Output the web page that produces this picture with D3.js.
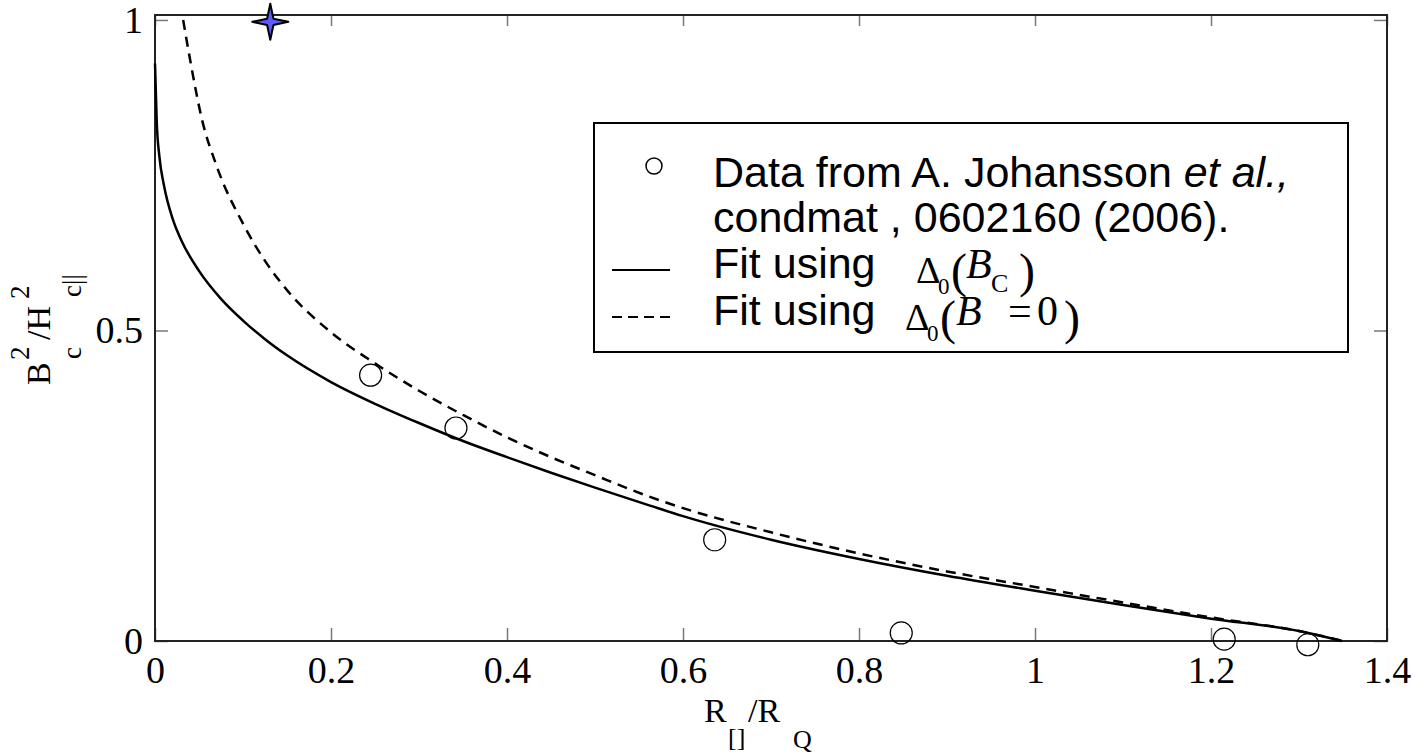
<!DOCTYPE html>
<html>
<head>
<meta charset="utf-8">
<script src="https://cdn.jsdelivr.net/npm/d3@7"></script>
<style>
  body { margin: 0; background: #fff; }
  svg { display: block; }
</style>
</head>
<body>
<div id="chart"></div>
<script>
// values
var xTicks = [0, 0.2, 0.4, 0.6, 0.8, 1, 1.2, 1.4];
var xTickLabels = ["0", "0.2", "0.4", "0.6", "0.8", "1", "1.2", "1.4"];
var yTicks = [0, 0.5, 1];
var yTickLabels = ["0", "0.5", "1"];

// open circles: data from Johansson et al.
var dataX = [0.245, 0.342, 0.636, 0.848, 1.215, 1.310];
var dataY = [0.428, 0.343, 0.163, 0.013, 0.003, -0.006];

// star marker
var starX = [0.131];
var starY = [0.997];

// solid fit, Delta0(Bc)
var solidX = [0, 0.002, 0.005, 0.01, 0.02, 0.03, 0.05, 0.075, 0.1, 0.125, 0.15, 0.2, 0.25, 0.3, 0.35, 0.4, 0.45, 0.5, 0.5625, 0.6, 0.7, 0.8, 0.9, 1.0, 1.1, 1.2, 1.3, 1.349];
var solidY = [0.93, 0.835, 0.78, 0.735, 0.68, 0.645, 0.596, 0.551, 0.516, 0.486, 0.46, 0.417, 0.382, 0.351, 0.322, 0.296, 0.271, 0.247, 0.218, 0.201, 0.163, 0.132, 0.105, 0.081, 0.058, 0.036, 0.016, 0.0];

// dashed fit, Delta0(B=0)
var dashX = [0.032, 0.04, 0.053, 0.07, 0.1, 0.125, 0.15, 0.2, 0.25, 0.3, 0.35, 0.4, 0.45, 0.5, 0.5625, 0.6, 0.7, 0.8, 0.9, 1.0, 1.1, 1.2, 1.3, 1.35];
var dashY = [1.0, 0.935, 0.842, 0.765, 0.672, 0.612, 0.565, 0.497, 0.447, 0.403, 0.364, 0.328, 0.296, 0.267, 0.232, 0.214, 0.175, 0.141, 0.112, 0.087, 0.062, 0.038, 0.016, 0.0];

var width = 1416, height = 755;
var plotLeft = 155, plotRight = 1387, plotTop = 15, plotBottom = 641;

var svg = d3.select("#chart").append("svg")
    .attr("width", width)
    .attr("height", height);

var x = d3.scaleLinear().domain([0, 1.4]).range([plotLeft, plotRight]);
var y = d3.scaleLinear().domain([0, 1.008]).range([plotBottom, plotTop]);

var serif = "'Liberation Serif', 'Times New Roman', serif";
var sans = "'Liberation Sans', Arial, sans-serif";

// ticks (inward, on all four sides)
function styleAxis(g) {
    g.select(".domain").remove();
    g.selectAll(".tick line").attr("stroke", "#777").attr("stroke-width", 1.5);
    g.selectAll(".tick text").attr("font-family", serif).attr("font-size", 38).attr("fill", "#000");
}

svg.append("g")
    .attr("transform", "translate(0," + plotBottom + ")")
    .call(d3.axisBottom(x).tickValues(xTicks).tickSize(-13).tickPadding(15)
        .tickFormat(function(d, i) { return xTickLabels[i]; }))
    .call(styleAxis);

svg.append("g")
    .attr("transform", "translate(0," + plotTop + ")")
    .call(d3.axisTop(x).tickValues(xTicks).tickSize(-11).tickFormat(""))
    .call(styleAxis);

svg.append("g")
    .attr("transform", "translate(" + plotLeft + ",0)")
    .call(d3.axisLeft(y).tickValues(yTicks).tickSize(-13).tickPadding(12)
        .tickFormat(function(d, i) { return yTickLabels[i]; }))
    .call(styleAxis);

svg.append("g")
    .attr("transform", "translate(" + plotRight + ",0)")
    .call(d3.axisRight(y).tickValues(yTicks).tickSize(-13).tickFormat(""))
    .call(styleAxis);

// frame
svg.append("rect")
    .attr("x", plotLeft).attr("y", plotTop)
    .attr("width", plotRight - plotLeft).attr("height", plotBottom - plotTop)
    .attr("fill", "none")
    .attr("stroke", "#222")
    .attr("stroke-width", 2);

// curves
var line = d3.line()
    .x(function(d) { return x(d[0]); })
    .y(function(d) { return y(d[1]); })
    .curve(d3.curveMonotoneX);

svg.append("path")
    .datum(d3.zip(solidX, solidY))
    .attr("d", line)
    .attr("fill", "none")
    .attr("stroke", "#000")
    .attr("stroke-width", 2.5);

svg.append("path")
    .datum(d3.zip(dashX, dashY))
    .attr("d", line)
    .attr("fill", "none")
    .attr("stroke", "#000")
    .attr("stroke-width", 2.5)
    .attr("stroke-dasharray", "10,7");

// data circles
svg.selectAll(".pt")
    .data(d3.zip(dataX, dataY))
    .enter()
    .append("circle")
    .attr("cx", function(d) { return x(d[0]); })
    .attr("cy", function(d) { return y(d[1]); })
    .attr("r", 11)
    .attr("fill", "none")
    .attr("stroke", "#000")
    .attr("stroke-width", 1.2);

// four pointed star
function starPath(R, r) {
    var p = d3.path();
    for (var i = 0; i < 8; i++) {
        var a = -Math.PI / 2 + i * Math.PI / 4;
        var rad = (i % 2 === 0) ? R : r;
        if (i === 0) p.moveTo(rad * Math.cos(a), rad * Math.sin(a));
        else p.lineTo(rad * Math.cos(a), rad * Math.sin(a));
    }
    p.closePath();
    return p.toString();
}

svg.selectAll(".star")
    .data(d3.zip(starX, starY))
    .enter()
    .append("path")
    .attr("d", starPath(18, 4.5))
    .attr("transform", function(d) { return "translate(" + x(d[0]) + "," + y(d[1]) + ")"; })
    .attr("fill", "#5b5bff")
    .attr("stroke", "#000")
    .attr("stroke-width", 2)
    .attr("stroke-linejoin", "round");

// x axis label: R[]/RQ
var xl = svg.append("g").attr("font-family", serif).attr("fill", "#000");
xl.append("text").attr("x", 704).attr("y", 722).attr("font-size", 34).text("R");
xl.append("text").attr("x", 728).attr("y", 746).attr("font-size", 26).text("[]");
xl.append("text").attr("x", 748).attr("y", 722).attr("font-size", 34).text("/R");
xl.append("text").attr("x", 793).attr("y", 748).attr("font-size", 26).text("Q");

// y axis label: B^2_c / H^2_c||
var yl = svg.append("g")
    .attr("transform", "translate(50,385) rotate(-90)")
    .attr("font-family", serif).attr("fill", "#000");
yl.append("text").attr("x", 0).attr("y", 0).attr("font-size", 34).text("B");
yl.append("text").attr("x", 25).attr("y", -21).attr("font-size", 27).text("2");
yl.append("text").attr("x", 26).attr("y", 31).attr("font-size", 27).text("c");
yl.append("text").attr("x", 45).attr("y", 0).attr("font-size", 34).text("/H");
yl.append("text").attr("x", 86).attr("y", -21).attr("font-size", 27).text("2");
yl.append("text").attr("x", 88).attr("y", 31).attr("font-size", 27).text("c||");

// legend
var lg = svg.append("g");
lg.append("rect")
    .attr("x", 594).attr("y", 123)
    .attr("width", 754).attr("height", 229)
    .attr("fill", "#fff")
    .attr("stroke", "#000")
    .attr("stroke-width", 2);

lg.append("circle")
    .attr("cx", 654).attr("cy", 166).attr("r", 8)
    .attr("fill", "none").attr("stroke", "#000").attr("stroke-width", 1.5);
lg.append("line")
    .attr("x1", 612).attr("x2", 670).attr("y1", 270).attr("y2", 270)
    .attr("stroke", "#000").attr("stroke-width", 2);
lg.append("line")
    .attr("x1", 612).attr("x2", 670).attr("y1", 317).attr("y2", 317)
    .attr("stroke", "#000").attr("stroke-width", 2)
    .attr("stroke-dasharray", "10,6");

var t1 = lg.append("text").attr("x", 713).attr("y", 187)
    .attr("font-family", sans).attr("font-size", 43);
t1.append("tspan").text("Data from A. Johansson ");
t1.append("tspan").attr("font-style", "italic").text("et al.,");

lg.append("text").attr("x", 713).attr("y", 232)
    .attr("font-family", sans).attr("font-size", 43)
    .text("condmat , 0602160 (2006).");
lg.append("text").attr("x", 713).attr("y", 278)
    .attr("font-family", sans).attr("font-size", 43)
    .text("Fit using");
lg.append("text").attr("x", 713).attr("y", 325)
    .attr("font-family", sans).attr("font-size", 43)
    .text("Fit using");

// math: Delta_0(B_C)
var m1 = lg.append("g").attr("font-family", serif).attr("fill", "#000");
m1.append("text").attr("x", 916).attr("y", 283).attr("font-size", 38).text("Δ");
m1.append("text").attr("x", 938).attr("y", 294).attr("font-size", 23).text("0");
m1.append("text").attr("x", 951).attr("y", 287).attr("font-size", 48).text("(");
m1.append("text").attr("x", 966).attr("y", 278).attr("font-size", 42).attr("font-style", "italic").text("B");
m1.append("text").attr("x", 991).attr("y", 292).attr("font-size", 26).text("C");
m1.append("text").attr("x", 1019).attr("y", 287).attr("font-size", 48).text(")");

// math: Delta_0(B = 0)
var m2 = lg.append("g").attr("font-family", serif).attr("fill", "#000");
m2.append("text").attr("x", 905).attr("y", 330).attr("font-size", 38).text("Δ");
m2.append("text").attr("x", 927).attr("y", 341).attr("font-size", 23).text("0");
m2.append("text").attr("x", 940).attr("y", 334).attr("font-size", 48).text("(");
m2.append("text").attr("x", 956).attr("y", 325).attr("font-size", 42).attr("font-style", "italic").text("B");
m2.append("text").attr("x", 1008).attr("y", 325).attr("font-size", 42).text("=");
m2.append("text").attr("x", 1037).attr("y", 325).attr("font-size", 42).text("0");
m2.append("text").attr("x", 1064).attr("y", 334).attr("font-size", 48).text(")");
</script>
</body>
</html>
